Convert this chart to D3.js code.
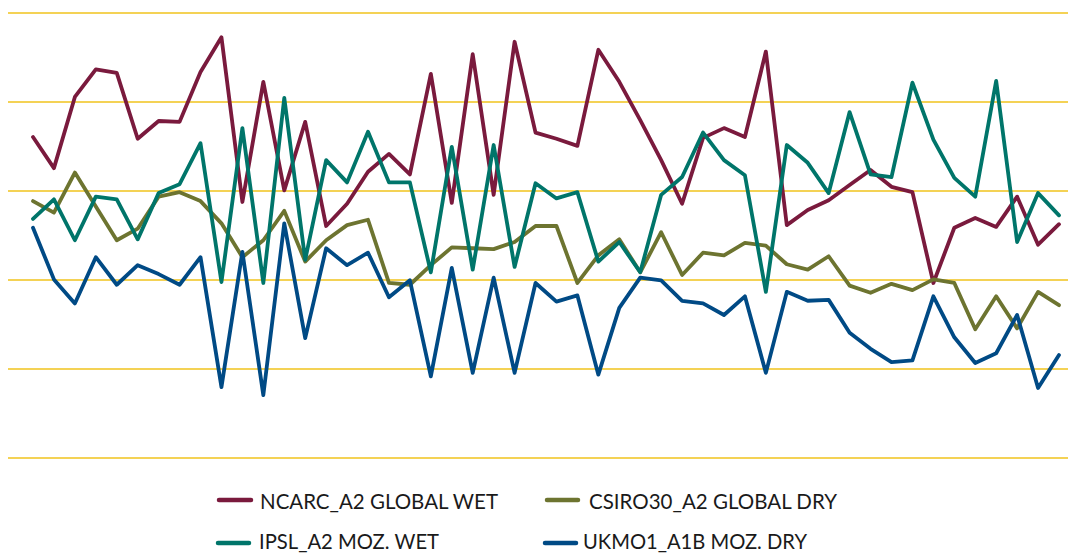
<!DOCTYPE html>
<html>
<head>
<meta charset="utf-8">
<script src="https://cdn.jsdelivr.net/npm/d3@7"></script>
<style>
  html, body { margin: 0; padding: 0; background: #ffffff; }
  svg { display: block; }
</style>
</head>
<body>
<svg id="chart" width="1068" height="554"></svg>
<script>
// ---- DATA ----
const categories = d3.range(1, 51);            // 50 unlabeled time steps
const gridTicks = [0, 1, 2, 3, 4, 5];           // unlabeled horizontal gridlines

const seriesNames = [
  "NCARC_A2 GLOBAL WET",
  "CSIRO30_A2 GLOBAL DRY",
  "IPSL_A2 MOZ. WET",
  "UKMO1_A1B MOZ. DRY"
];

const ncarcWet = [3.61,3.26,4.06,4.37,4.33,3.59,3.79,3.78,4.34,4.73,
                  2.88,4.23,3.01,3.78,2.61,2.86,3.22,3.42,3.19,4.32,
                  2.87,4.54,2.96,4.68,3.66,3.59,3.51,4.59,4.23,3.80,
                  3.35,2.86,3.60,3.71,3.61,4.57,2.62,2.79,2.90,3.07,
                  3.24,3.05,2.99,1.97,2.59,2.70,2.60,2.94,2.40,2.63];

const csiroDry = [2.89,2.76,3.21,2.83,2.45,2.58,2.94,2.99,2.89,2.64,
                  2.26,2.45,2.78,2.21,2.45,2.62,2.68,1.97,1.95,2.17,
                  2.37,2.36,2.35,2.43,2.61,2.61,1.97,2.28,2.46,2.09,
                  2.54,2.06,2.31,2.28,2.42,2.39,2.18,2.12,2.27,1.94,
                  1.86,1.96,1.89,2.01,1.97,1.45,1.82,1.46,1.87,1.72];

const ipslWet = [2.69,2.91,2.45,2.94,2.91,2.46,2.98,3.08,3.54,1.98,
                 3.71,1.97,4.05,2.23,3.35,3.10,3.67,3.10,3.10,2.09,
                 3.50,2.12,3.52,2.15,3.09,2.92,2.99,2.21,2.43,2.09,
                 2.96,3.16,3.66,3.35,3.18,1.87,3.52,3.32,2.98,3.89,
                 3.19,3.16,4.22,3.58,3.15,2.94,4.24,2.43,2.98,2.73];

const ukmoDry = [2.59,2.01,1.74,2.26,1.95,2.17,2.07,1.95,2.26,0.80,
                 2.32,0.71,2.64,1.35,2.36,2.17,2.31,1.81,2.00,0.92,
                 2.14,0.96,2.03,0.96,1.97,1.76,1.83,0.94,1.69,2.03,
                 2.00,1.77,1.74,1.61,1.82,0.96,1.87,1.77,1.78,1.41,
                 1.23,1.08,1.10,1.82,1.36,1.07,1.18,1.61,0.79,1.16];

const seriesColors = ["#7a1a3d", "#6d7430", "#00756a", "#004a85"];

// ---- BUILD ----
const svg = d3.select("#chart");

const x = d3.scalePoint().domain(categories).range([33, 1059]);
const y = d3.scaleLinear().domain([0, 5]).range([458.3, 13.3]);

// gridlines from the y scale ticks
svg.append("g").selectAll("line")
  .data(gridTicks)
  .join("line")
  .attr("x1", 8).attr("x2", 1068)
  .attr("y1", d => Math.round(y(d)))
  .attr("y2", d => Math.round(y(d)))
  .attr("stroke", "#f1c31c")
  .attr("stroke-width", 1.4);

// series
const seriesData = [ncarcWet, csiroDry, ipslWet, ukmoDry];
const drawOrder = [0, 1, 2, 3];
const line = d3.line()
  .x((d, i) => x(categories[i]))
  .y(d => y(d));

svg.append("g").selectAll("path")
  .data(drawOrder)
  .join("path")
  .attr("d", k => line(seriesData[k]))
  .attr("fill", "none")
  .attr("stroke", k => seriesColors[k])
  .attr("stroke-width", 3.8)
  .attr("stroke-linejoin", "round")
  .attr("stroke-linecap", "round");

// legend
const legendItems = [
  { k: 0, sx: 219, sw: 32, tx: 260, tw: 238, y: 500, base: 509 },
  { k: 1, sx: 547, sw: 31, tx: 589, tw: 248, y: 500, base: 509 },
  { k: 2, sx: 218, sw: 31, tx: 259, tw: 180, y: 543, base: 549 },
  { k: 3, sx: 545, sw: 31, tx: 583, tw: 224, y: 543, base: 549 }
];
const lg = svg.append("g");
legendItems.forEach(it => {
  lg.append("line")
    .attr("x1", it.sx).attr("x2", it.sx + it.sw)
    .attr("y1", it.y).attr("y2", it.y)
    .attr("stroke", seriesColors[it.k])
    .attr("stroke-width", 4.5)
    .attr("stroke-linecap", "round");
  lg.append("text")
    .attr("x", it.tx).attr("y", it.base)
    .attr("font-family", "Lato, 'Noto Sans', sans-serif")
    .attr("font-size", 21)
    .attr("fill", "#1a1a1a")
    .attr("textLength", it.tw)
    .attr("lengthAdjust", "spacingAndGlyphs")
    .text(seriesNames[it.k]);
});
</script>
</body>
</html>
